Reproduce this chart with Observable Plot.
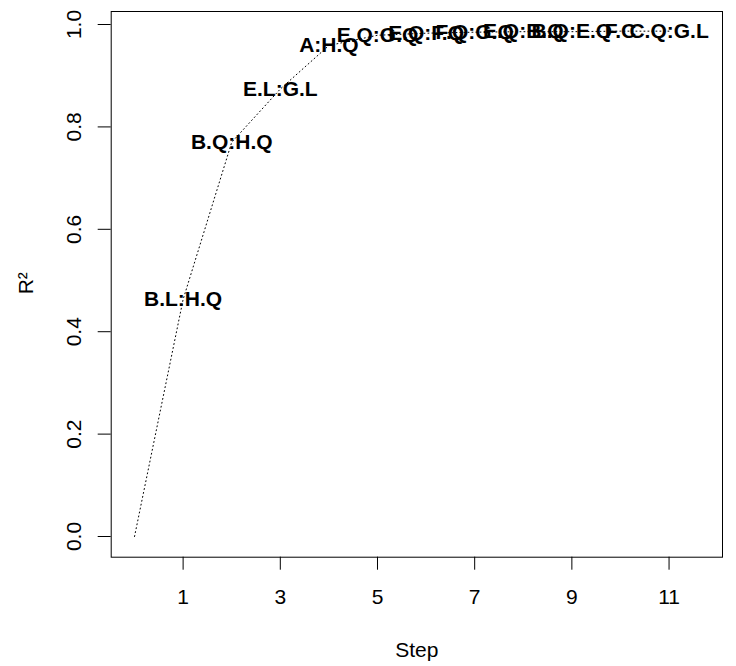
<!DOCTYPE html>
<html>
<head>
<meta charset="utf-8">
<script src="https://cdn.jsdelivr.net/npm/d3@7"></script>
<script src="https://cdn.jsdelivr.net/npm/@observablehq/plot@0.6"></script>
<style>
  html, body { margin: 0; padding: 0; background: #fff; }
  #chart svg { display: block; }
</style>
</head>
<body>
<div id="chart"></div>
<script>
// ---- data ----
const steps = [0, 1, 2, 3, 4, 5, 6, 7, 8, 9, 10, 11];
const r2 = [0, 0.463, 0.770, 0.874, 0.959, 0.979, 0.983, 0.985, 0.986, 0.986, 0.987, 0.987];
const termLabels = ["", "B.L:H.Q", "B.Q:H.Q", "E.L:G.L", "A:H.Q", "E.Q:G.Q", "E.Q:F.Q",
                    "F.Q:G.Q", "E.Q:B.Q", "B.Q:E.Q", "F.C", "C.Q:G.L"];
const xTicks = [1, 3, 5, 7, 9, 11];
const yTicks = [0, 0.2, 0.4, 0.6, 0.8, 1.0];
const xTitle = "Step";
const yTitle = "R²";

const rows = steps.map((s, i) => ({step: s, r2: r2[i], label: termLabels[i]}));
const labelled = rows.filter(d => d.label !== "");

const chart = Plot.plot({
  width: 736,
  height: 666,
  marginLeft: 110.7,
  marginRight: 14,
  marginTop: 11,
  marginBottom: 109.3,
  style: {fontFamily: "'Liberation Sans', Arial, Helvetica, sans-serif", background: "#fff", color: "#000"},
  x: {domain: [-0.48, 12.1]},
  y: {domain: [-0.0404, 1.0254]},
  marks: [
    Plot.frame({stroke: "#000", strokeWidth: 1}),
    Plot.axisX({ticks: xTicks, tickSize: 13, tickPadding: 19, fontSize: 21, label: null, tickFormat: d => String(d)}),
    Plot.axisY({ticks: yTicks, tickSize: 13, tickRotate: -90, lineAnchor: "middle", tickPadding: 24.4, fontSize: 21, label: null, tickFormat: d3.format(".1f")}),
    Plot.line(rows, {x: "step", y: "r2", stroke: "#000", strokeWidth: 1, strokeDasharray: "1,3"}),
    Plot.text(labelled, {x: "step", y: "r2", text: "label", fontWeight: "bold", fontSize: 21, fill: "#000", lineAnchor: "middle"}),
    Plot.text([xTitle], {frameAnchor: "bottom", dy: 92.6, fontSize: 21, lineAnchor: "middle", fill: "#000"}),
    Plot.text([yTitle], {frameAnchor: "left", dx: -85.4, dy: 10, rotate: -90, fontSize: 21, lineAnchor: "middle", fill: "#000"})
  ]
});
document.getElementById("chart").appendChild(chart);
</script>
</body>
</html>
